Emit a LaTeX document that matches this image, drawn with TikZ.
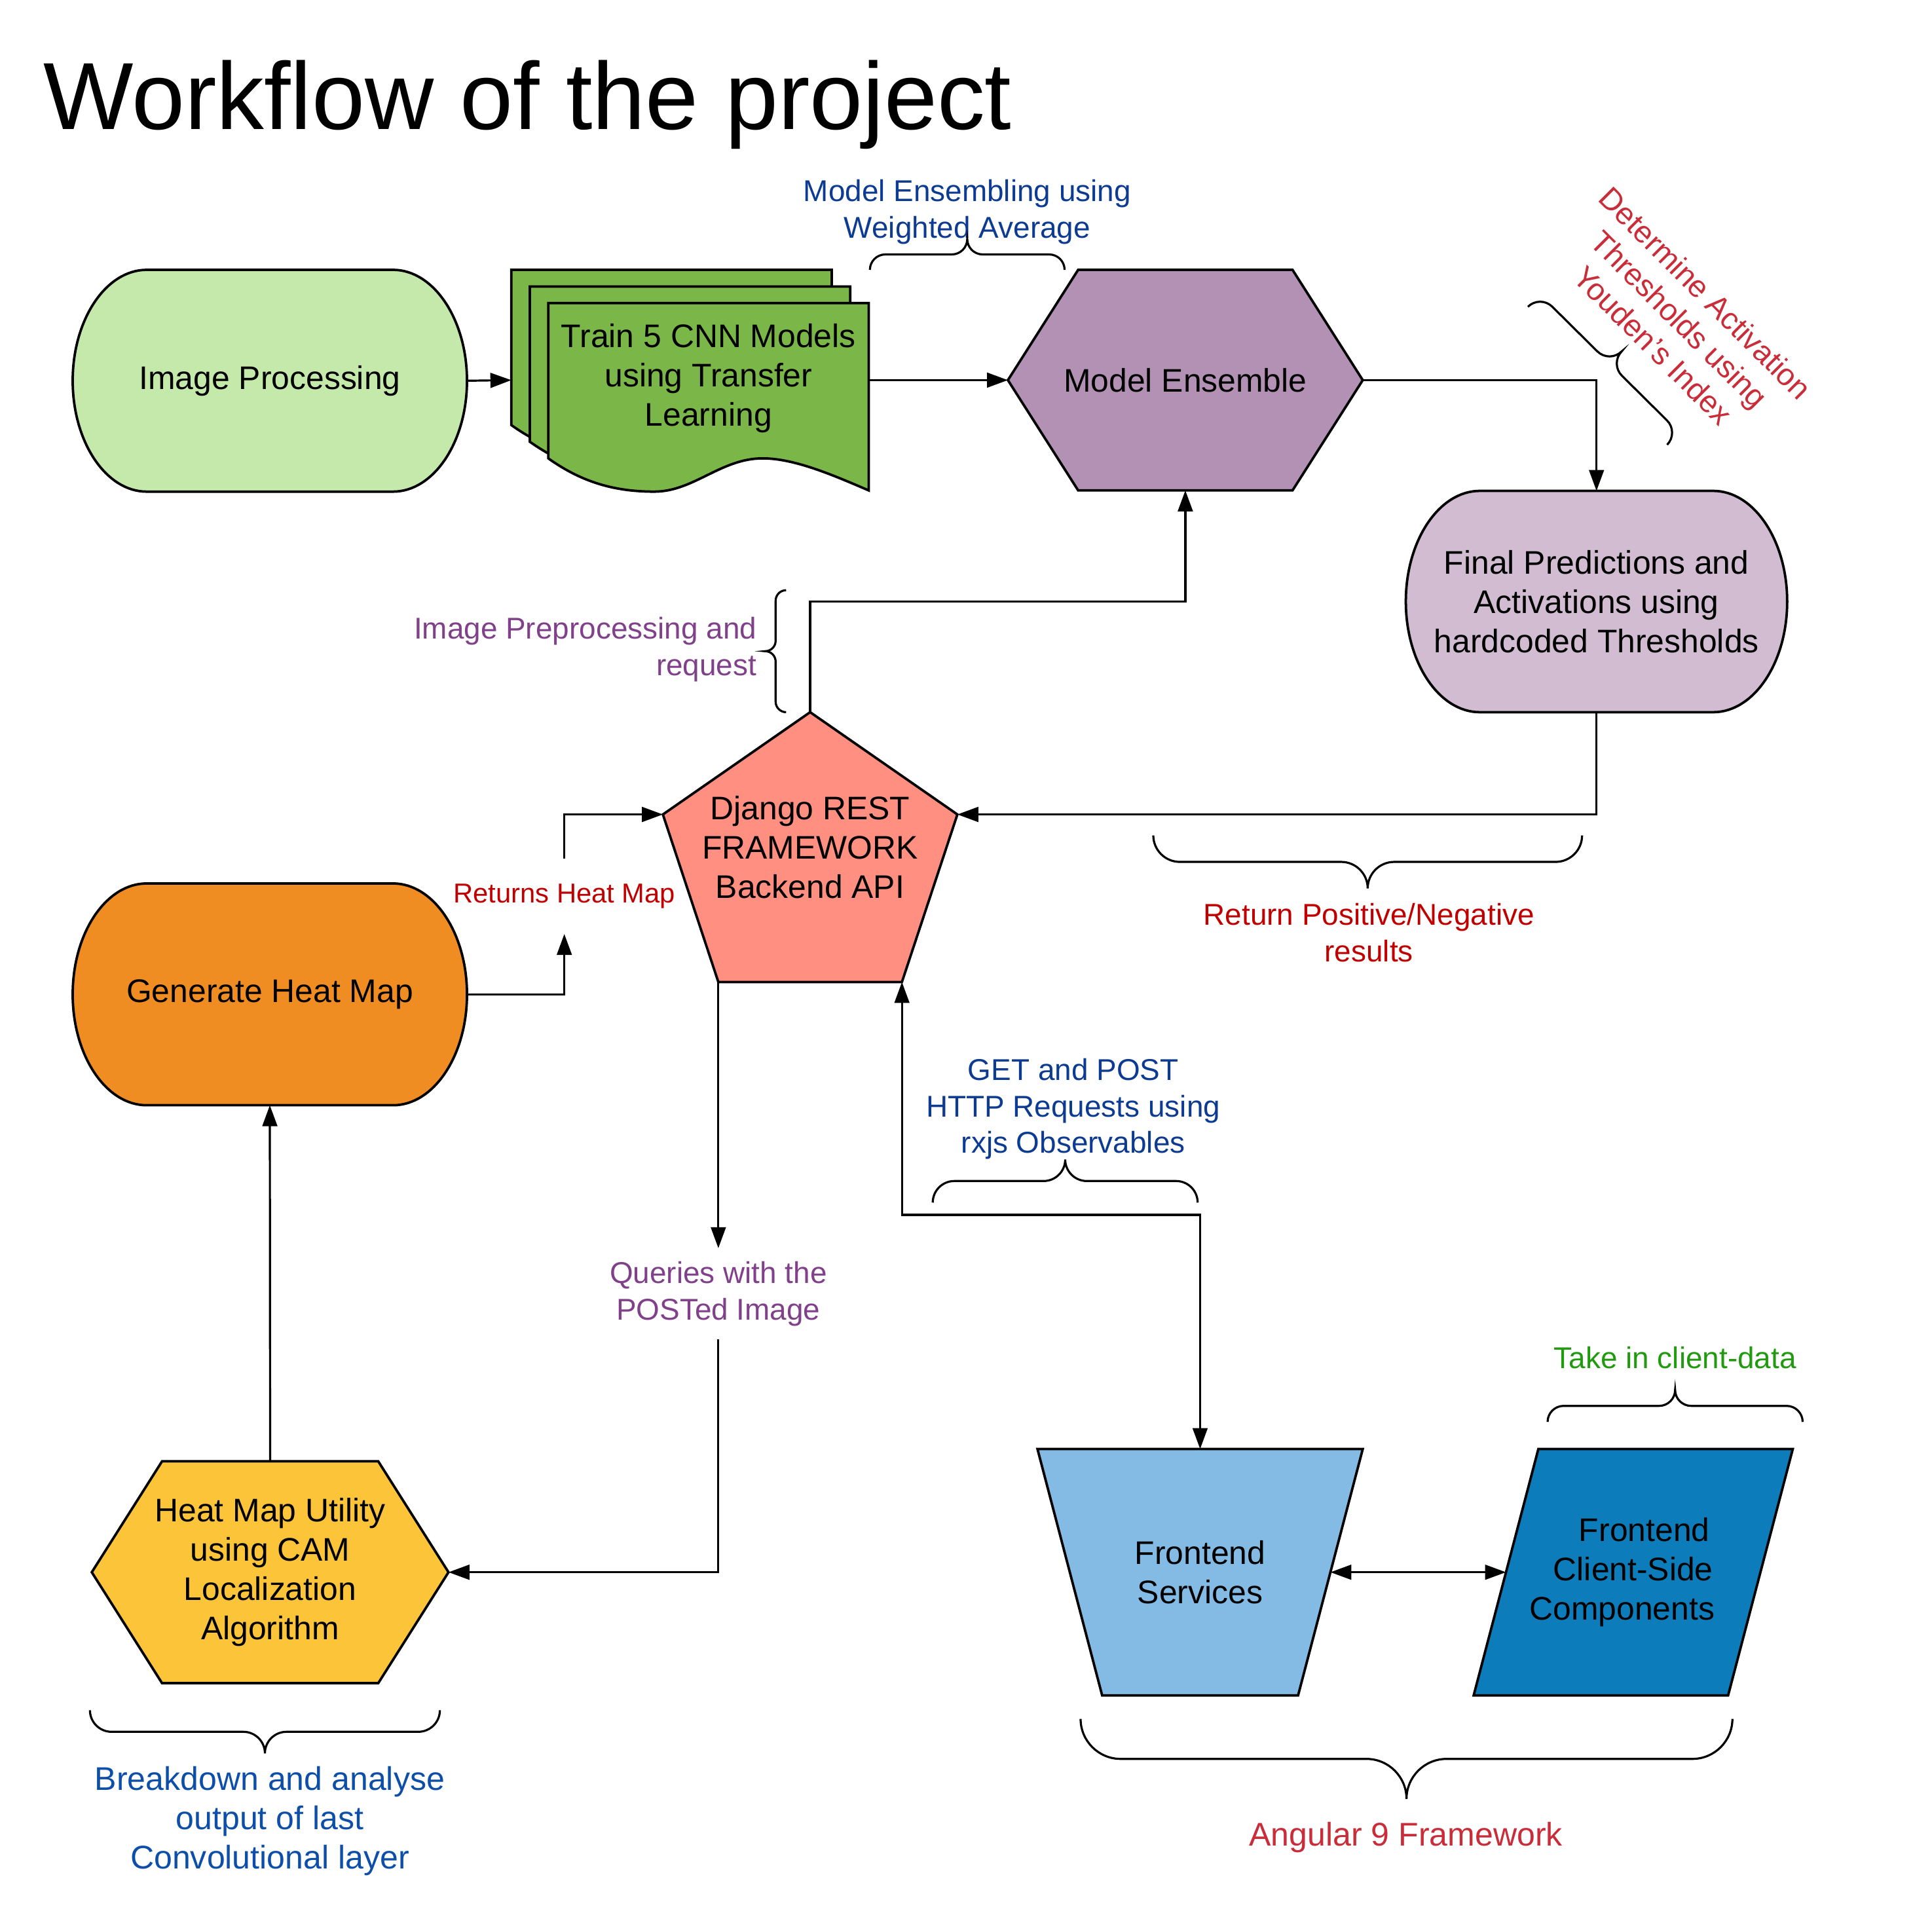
\documentclass[tikz,border=0pt]{standalone}
\usepackage{fontspec}
\setmainfont{Liberation Sans}
\usetikzlibrary{arrows.meta, calc, backgrounds, decorations}
\definecolor{ipgreen}{HTML}{C5E8AB}
\definecolor{cnngreen}{HTML}{7AB648}
\definecolor{ensviolet}{HTML}{B391B5}
\definecolor{predlilac}{HTML}{D1BCD2}
\definecolor{apisalmon}{HTML}{FF8F80}
\definecolor{heatorange}{HTML}{EF8D22}
\definecolor{camyellow}{HTML}{FCC438}
\definecolor{svcblue}{HTML}{83BBE5}
\definecolor{cmpblue}{HTML}{0C7CBA}
\definecolor{noteblue}{HTML}{0D3B91}
\definecolor{brkblue}{HTML}{0D4FA8}
\definecolor{notered}{HTML}{C92D39}
\definecolor{notedark}{HTML}{C00000}
\definecolor{notepurple}{HTML}{80418A}
\definecolor{notegreen}{HTML}{229A10}

% curly brace with round hooks
\newdimen\brL \newdimen\brH
\pgfdeclaredecoration{roundbrace}{brace}{%
  \state{brace}[width=+\pgfdecoratedremainingdistance, next state=final]{%
    \brL=.5\pgfdecoratedremainingdistance
    \brH=.5\pgfdecorationsegmentamplitude
    \pgfpathmoveto{\pgfpointorigin}%
    \pgfpathcurveto{\pgfqpoint{0pt}{.552\brH}}{\pgfqpoint{.448\brH}{\brH}}{\pgfqpoint{\brH}{\brH}}%
    \pgfpathlineto{\pgfpoint{\brL-\brH}{\brH}}%
    \pgfpathcurveto{\pgfpoint{\brL-0.448*\brH}{\brH}}{\pgfpoint{\brL}{1.448*\brH}}{\pgfpoint{\brL}{2*\brH}}%
    \pgfpathcurveto{\pgfpoint{\brL}{1.448*\brH}}{\pgfpoint{\brL+0.448*\brH}{\brH}}{\pgfpoint{\brL+\brH}{\brH}}%
    \pgfpathlineto{\pgfpoint{2*\brL-\brH}{\brH}}%
    \pgfpathcurveto{\pgfpoint{2*\brL-0.448*\brH}{\brH}}{\pgfpoint{2*\brL}{0.552*\brH}}{\pgfpoint{2*\brL}{0pt}}%
  }%
  \state{final}{\pgfpathmoveto{\pgfpointdecoratedpathlast}}%
}

\tikzset{
  shapeline/.style={draw=black, line width=2pt, line join=miter},
  boxtext/.style={inner sep=0pt, outer sep=0pt, align=center, font=\fontsize{26.5}{32}\selectfont},
  note/.style={inner sep=0pt, outer sep=0pt, align=center, font=\fontsize{24.4}{29.5}\selectfont},
  flow/.style={line width=1.7pt, -{Triangle[length=17pt, width=12pt]}},
  flowboth/.style={line width=1.7pt, {Triangle[length=17pt, width=12pt]}-{Triangle[length=17pt, width=12pt]}},
  curly/.style={line width=1.7pt, decorate, decoration={roundbrace, amplitude=#1}},
}

\begin{document}
\begin{tikzpicture}[x=1pt, y=-1pt]
  \useasboundingbox (0,0) rectangle (1568,1568);

  \node[anchor=base west, inner sep=0pt, font=\fontsize{77.4}{90}\selectfont] (title) at (35,105) {Workflow of the project};

  % main boxes
  \node[boxtext, minimum width=320, minimum height=180] (ip) at (219,309) {Image Processing};
  \node[boxtext, minimum width=290, minimum height=179] (train) at (560,308.5) {};
  \node[boxtext] (traintxt) at (575,307) {Train 5 CNN Models\\using Transfer\\Learning};
  \node[boxtext, minimum width=288, minimum height=179] (me) at (962,308.5) {Model Ensemble};
  \node[boxtext, minimum width=309.5, minimum height=179.6] (fp) at (1295.7,488.2) {Final Predictions and\\Activations using\\hardcoded Thresholds};
  \node[boxtext, minimum width=239, minimum height=219] (dj) at (657.5,687.5) {Django REST\\FRAMEWORK\\Backend API};
  \node[boxtext, minimum width=320, minimum height=180] (gh) at (219,807) {Generate Heat Map};
  \node[boxtext, minimum width=289.5, minimum height=180] (hm) at (219.25,1276) {Heat Map Utility\\using CAM\\Localization\\Algorithm};
  \node[boxtext, minimum width=264, minimum height=200] (fs) at (974,1276) {Frontend\\Services};
  \node[boxtext, minimum width=259, minimum height=200] (cs) at (1325.5,1276) {\rule{18pt}{0pt}Frontend\\Client-Side\\Components\rule{18pt}{0pt}};

  % notes
  \node[note, text=noteblue] (wavg) at (785,172) {Model Ensembling using\\Weighted Average};
  \node[note, text=notepurple, align=right, anchor=east] (prep) at (614,527) {Image Preprocessing and\\request};
  \node[note, text=notered, rotate=-45, font=\fontsize{25}{30}\selectfont] (thr) at (1363,259) {Determine Activation\\Thresholds using\\Youden's Index};
  \node[note, text=notedark, font=\fontsize{22.2}{27}\selectfont, minimum height=61] (rhm) at (458,727.5) {Returns Heat Map};
  \node[note, text=notedark] (retpn) at (1111,757) {Return Positive/Negative\\results};
  \node[note, text=noteblue] (http) at (871,900) {GET and POST\\HTTP Requests using\\rxjs Observables};
  \node[note, text=notepurple, minimum height=74] (q) at (583,1050) {Queries with the\\POSTed Image};
  \node[note, text=notegreen] (client) at (1359.5,1102) {Take in client-data};
  \node[note, text=brkblue, font=\fontsize{26.6}{32}\selectfont] (brk) at (219,1478) {Breakdown and analyse\\output of last\\Convolutional layer};
  \node[note, text=notered, font=\fontsize{26.6}{32}\selectfont] (ang) at (1141,1491) {Angular 9 Framework};

  \begin{scope}[on background layer]
    % stacked documents
    \foreach \d in {0,1,2}
      \draw[shapeline, fill=cnngreen, shift={(415+15*\d,219+13.5*\d)}]
        (0,0) -- (260,0) -- (260,152) .. controls (232,140) and (200,126) .. (174,126)
        .. controls (140,126) and (118,153) .. (86,153) .. controls (55,153) and (28,146) .. (0,126) -- cycle;
    % terminators
    \foreach \n/\c in {ip/ipgreen, gh/heatorange, fp/predlilac}
      \draw[shapeline, fill=\c] ($(\n.north west)+(60,0)$) -- ($(\n.north east)+(-60,0)$)
        .. controls ($(\n.north east)+(-27,0)$) and ($(\n.east)!0.552!(\n.north east)$) .. (\n.east)
        .. controls ($(\n.east)!0.552!(\n.south east)$) and ($(\n.south east)+(-27,0)$) .. ($(\n.south east)+(-60,0)$)
        -- ($(\n.south west)+(60,0)$)
        .. controls ($(\n.south west)+(27,0)$) and ($(\n.west)!0.552!(\n.south west)$) .. (\n.west)
        .. controls ($(\n.west)!0.552!(\n.north west)$) and ($(\n.north west)+(27,0)$) .. cycle;
    % hexagons
    \foreach \n/\c in {me/ensviolet, hm/camyellow}
      \draw[shapeline, fill=\c] ($(\n.north west)+(57,0)$) -- ($(\n.north east)+(-57,0)$) -- (\n.east)
        -- ($(\n.south east)+(-57,0)$) -- ($(\n.south west)+(57,0)$) -- (\n.west) -- cycle;
    % pentagon
    \draw[shapeline, fill=apisalmon] (dj.north) -- ($(dj.east)+(0,-26.5)$) coordinate (djR)
      -- ($(dj.south east)+(-45,0)$) coordinate (djBR) -- ($(dj.south west)+(45,0)$) coordinate (djBL)
      -- ($(dj.west)+(0,-26.5)$) coordinate (djL) -- cycle;
    % frontend
    \draw[shapeline, fill=svcblue] (fs.north west) -- (fs.north east) -- coordinate (fsR) ($(fs.south east)+(-52.5,0)$)
      -- ($(fs.south west)+(52.5,0)$) -- cycle;
    \draw[shapeline, fill=cmpblue] (cs.south west) -- coordinate (csL) ($(cs.north west)+(52.5,0)$) -- (cs.north east)
      -- ($(cs.south east)+(-52.5,0)$) -- cycle;
  \end{scope}

  % connectors
  \draw[flow] (ip.east) -- (train.west);
  \draw[flow] (train.east) -- (me.west);
  \draw[flow] (me.east) -| (fp.north);
  \draw[flow] (fp.south) |- (djR);
  \draw[flow] (dj.north) -- ++(0,-90) -| (me.south);
  \draw[flow] (gh.east) -| (rhm.south);
  \draw[flow] (rhm.north) |- (djL);
  \draw[flow] (djBL) -- (q.north);
  \draw[flow] (q.south) |- (hm.east);
  \draw[flow] (hm.north) -- (gh.south);
  \draw[flowboth] (djBR) -- ++(0,189) -| (fs.north);
  \draw[flowboth] (fsR) -- (csL);

  % braces
  \draw[curly=25] (706,219) -- (864,219);
  \draw[curly=17] (638,578) -- (638,479);
  \draw[curly=28] (1240,249) -- (1353,361);
  \draw[curly=43] (1284,678) -- (936,678);
  \draw[curly=35] (757,976) -- (972,976);
  \draw[curly=26] (1256,1154) -- (1463,1154);
  \draw[curly=35] (357,1388) -- (73,1388);
  \draw[curly=65] (1406,1395) -- (877,1395);
\end{tikzpicture}
\end{document}
